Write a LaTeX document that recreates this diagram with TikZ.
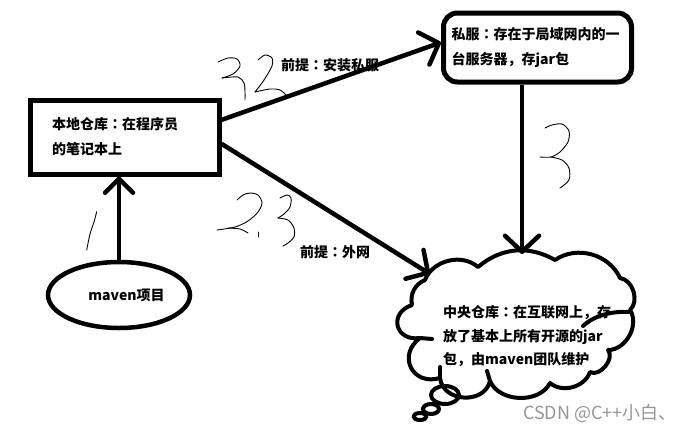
\documentclass[tikz,border=0pt]{standalone}
\usepackage{fontspec}
\newfontfamily\cjk{Noto Sans CJK SC}
\newfontfamily\cjkp{Noto Sans CJK TC}
\newcommand{\cln}{{\cjkp\bfseries ：}}
\usetikzlibrary{arrows.meta,shapes.geometric}
\definecolor{wm}{RGB}{150,150,150}
\tikzset{
  box/.style={draw, line width=5pt, inner sep=0pt, align=left, font=\cjk\bfseries\fontsize{14}{25}\selectfont},
  txt/.style={inner sep=0pt, font=\cjk\bfseries\fontsize{14}{23.5}\selectfont},
  arr/.style={line width=4.5pt, -{Straight Barb[length=16pt,width=34pt,round]}},
  arrs/.style={line width=4.5pt, -{Straight Barb[length=14pt,width=28pt,round]}},
  hand/.style={line width=0.9pt, line cap=round, line join=round},
  cloudline/.style={line width=4pt, line cap=round, line join=round}
}
\begin{document}
\begin{tikzpicture}[x=1pt,y=-1pt]
\fill[white] (0,0) rectangle (690,434);
\useasboundingbox (0,0) rectangle (690,434);

% nodes
\node[box, minimum width=189pt, minimum height=74pt, text width=145pt] (local) at (124.5,137)
  {本地仓库\cln 在程序员\\的笔记本上};
\node[box, rounded corners=14pt, minimum width=188pt, minimum height=69pt, text width=172pt] (private) at (537.5,47.5)
  {私服\cln 存在于局域网内的一\\台服务器，存jar包};
\node[draw, ellipse, line width=4.5pt, minimum width=142pt, minimum height=66pt, inner sep=0pt] (maven) at (119,295) {};
\node[txt] (mavenlbl) at (126.5,295) {maven项目};

\node[txt, anchor=west] (lab1) at (281,65) {前提\cln 安装私服};
\node[txt, anchor=west] (lab2) at (300,252.5) {前提\cln 外网};

% cloud text
\node[txt, anchor=west, align=left] (central) at (443,336.5)
  {中央仓库\cln 在互联网上，存\\放了基本上所有开源的jar\\包，由maven团队维护};

% cloud outline
\draw[cloudline]
  (425,280) to[bend left=55] (478,267)
  to[bend left=35] (555,260)
  to[bend left=50] (620,278)
  to[bend left=65] (630,310)
  to[bend left=62] (608,350)
  to[bend left=80] (590,372)
  to[bend left=55] (550,383)
  to[bend left=65] (490,381)
  to[bend left=80, looseness=1.25] (440,378)
  to[bend left=80, looseness=1.65] (420,338)
  to[bend left=85, looseness=1.9] (412,305)
  to[bend left=40] (425,280);
% stroke ends inside the cloud
\draw[cloudline] (420,338) -- (432,339);
\draw[cloudline] (440,378) -- (440,367);
\draw[cloudline] (490,381) -- (487,371);
\draw[cloudline] (630,312) .. controls (612,311) and (595,315) .. (583,326);
% thought bubbles
\draw[cloudline] (445,395) ellipse [x radius=14, y radius=9];
\draw[cloudline] (431,409) ellipse [x radius=8, y radius=5];
\draw[cloudline] (420,416.5) ellipse [x radius=6.5, y radius=3.5];

\coordinate (cloudL) at (430,274);
\coordinate (cloudT) at (522,254);

% connectors
\draw[arrs] (maven.north) -- (maven.north |- local.south);
\draw[arr] (local.10) -- (private.177);
\draw[arr] (local.-4) -- (cloudL);
\draw[arr] ([xshift=-15.5pt]private.south) -- (cloudT);

% handwritten numbers
\draw[hand] plot[smooth] coordinates {(218,62) (228,58) (237,59) (240,66) (233,74) (222,78)};
\draw[hand] plot[smooth] coordinates {(222,78) (238,77) (244,83) (245,92) (245,100)};
\draw[hand] plot[smooth] coordinates {(258,60) (265,55) (272,58) (272,66) (264,80) (255,92)};
\draw[hand] plot[smooth] coordinates {(255,92) (270,89) (280,90) (287,96)};

\draw[hand] plot[smooth] coordinates {(237,200) (243,195) (250,193) (258,195) (262,203) (258,212) (248,221) (235,227) (217,230)};
\draw[hand] plot[smooth] coordinates {(228,228) (240,229) (248,233)};
\draw[hand] (258,232) -- (258,237);
\draw[hand] plot[smooth] coordinates {(280,198) (287,195) (291,198) (290,207) (284,214) (278,218)};
\draw[hand] plot[smooth] coordinates {(278,218) (288,220) (294,228) (294,237) (288,243) (283,246)};

\draw[hand] plot[smooth] coordinates {(545,128) (552,125) (562,124) (569,131) (568,142) (560,152) (551,157) (540,157)};
\draw[hand] plot[smooth] coordinates {(551,157) (562,160) (569,168) (569,180) (560,188)};

\draw[hand] plot[smooth] coordinates {(96.7,211.7) (94,222) (90,234) (86.7,250)};

% watermark
\node[anchor=west, inner sep=0pt, text=wm, font=\cjk\fontsize{18}{20}\selectfont] (wmark) at (523,413) {CSDN @C++小白、};
\end{tikzpicture}
\end{document}
